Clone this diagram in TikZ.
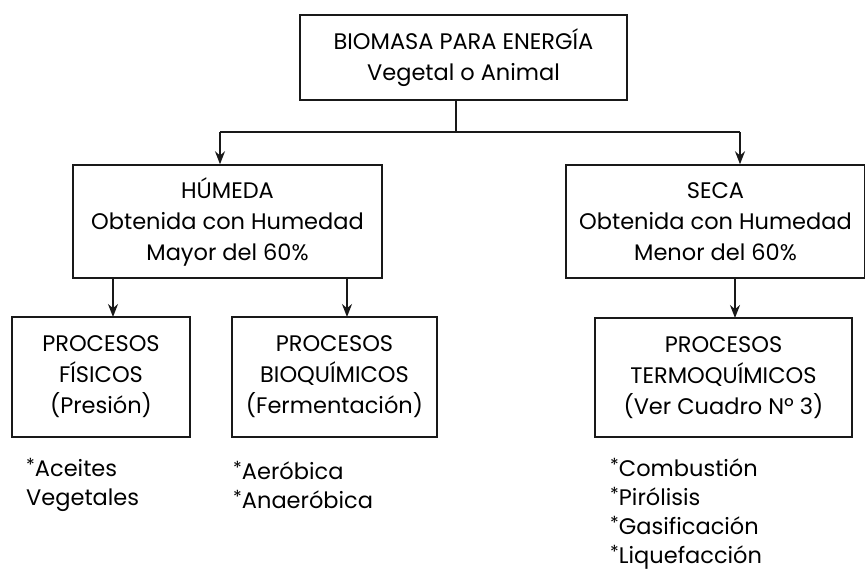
\documentclass[tikz,border=0pt]{standalone}
\usepackage{fontspec}
\setmainfont{Poppins}
\usetikzlibrary{arrows.meta}
\newcommand{\stp}{\raisebox{0.2em}{\fontsize{18}{18}\selectfont *}}
\begin{document}
\begin{tikzpicture}[x=1pt,y=-1pt,
  box/.style={draw=black!90,line width=1.5pt,align=center,inner sep=0pt,
    font=\fontsize{22.5}{31}\selectfont},
  note/.style={align=left,anchor=west,inner sep=0pt,
    font=\fontsize{22.5}{29}\selectfont},
  conn/.style={line width=1.5pt,draw=black!90},
  arr/.style={conn,-{Stealth[length=13pt,width=10pt]}}]
\useasboundingbox (0,0) rectangle (865,571);
\node[box,minimum width=327pt,minimum height=85pt] (top) at (463.5,57.5)
  {BIOMASA PARA ENERGÍA\\Vegetal o Animal};
\node[box,minimum width=309pt,minimum height=113pt] (hum) at (227.5,221.5)
  {HÚMEDA\\Obtenida con Humedad\\Mayor del 60\%};
\node[box,minimum width=299pt,minimum height=113pt] (seca) at (715.5,221.5)
  {SECA\\Obtenida con Humedad\\Menor del 60\%};
\node[box,minimum width=178pt,minimum height=120pt] (fis) at (101,377)
  {PROCESOS\\FÍSICOS\\(Presión)};
\node[box,minimum width=205pt,minimum height=120pt] (bio) at (334.5,377)
  {PROCESOS\\BIOQUÍMICOS\\(Fermentación)};
\node[box,minimum width=257pt,minimum height=119pt] (ter) at (723.5,377.5)
  {PROCESOS\\TERMOQUÍMICOS\\(Ver Cuadro Nº 3)};
\coordinate (split) at (456,132);
\coordinate (jl) at (220,132);
\coordinate (jr) at (740,132);
\draw[conn] (top.south -| split) -- (split);
\draw[conn] (jl) -- (jr);
\draw[arr] (jl) -- (jl |- hum.north);
\draw[arr] (jr) -- (jr |- seca.north);
\draw[arr] (113,278) -- (113,317);
\draw[arr] (347,278) -- (347,317);
\draw[arr] (735,278) -- (735,318);
\node[note] (n1) at (26,485) {\stp Aceites\\Vegetales};
\node[note] (n2) at (233,485) {\stp Aeróbica\\\stp Anaeróbica};
\node[note] (n3) at (610,514) {\stp Combustión\\\stp Pirólisis\\\stp Gasificación\\\stp Liquefacción};
\end{tikzpicture}
\end{document}
